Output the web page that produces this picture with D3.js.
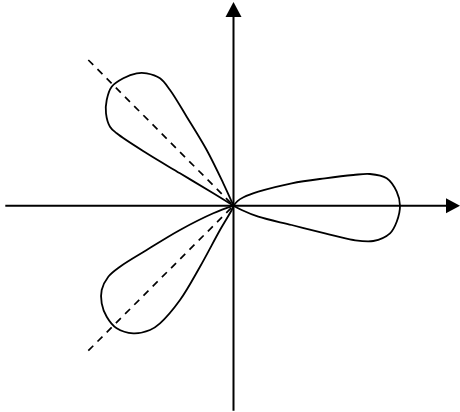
<html>
<head>
    <script src="https://d3js.org/d3.v7.min.js"></script>
    <style>
        body { margin: 0; background: #fff; }
    </style>
</head>
<body>
    <svg id="rose_svg" width="460" height="412"></svg>
    <script>
        // outline points of each petal (x right, y up), starting and ending at the pole
        const petalRight = [
            [0, 0], [4, 4.6], [10, 8.4], [24.8, 14], [58.2, 22.4], [91.5, 27.4], [119.8, 30.7], [136.5, 31.7],
            [153.2, 27.4], [163.2, 14], [166.5, 0], [163.2, -16], [156.5, -27.6], [139.8, -35.3],
            [119.8, -34.3], [91.5, -27.6], [58.2, -19.3], [24.8, -11], [8.2, -4.3], [0, 0]
        ];
        const petalUpperLeft = [
            [0, 0], [-10.2, 22.4], [-26.8, 55.7], [-46.8, 89], [-63.5, 115.7], [-73.5, 127.4],
            [-86.8, 132.4], [-96.8, 132.4], [-110.2, 127.4], [-121.8, 119], [-126.8, 105.7],
            [-127.5, 92.4], [-123.5, 79], [-116.8, 72.4], [-86.8, 52.4], [-53.5, 32.4], [-20.2, 12.4], [0, 0]
        ];
        const petalLowerLeft = [
            [0, 0], [-20.2, -7.6], [-53.5, -24.3], [-86.8, -44.3], [-113.5, -61], [-125.2, -71],
            [-131.8, -84.3], [-131.8, -97.6], [-126.8, -111], [-116.8, -122.6], [-100.2, -127.6],
            [-83.5, -124.3], [-73.5, -117.6], [-53.5, -94.3], [-33.5, -61], [-13.5, -24.3], [-1.8, -4.3], [0, 0]
        ];
        const petals = [petalRight, petalUpperLeft, petalLowerLeft];

        // dashed guide rays from the pole
        const guides = [[-145.2, 145.7], [-145.2, -145]];

        // axis extents
        const xAxisExtent = [-228.2, 226.5];
        const yAxisExtent = [-205, 203.7];

        const svg = d3.select("#rose_svg");
        const width = +svg.attr("width");
        const height = +svg.attr("height");

        const x = d3.scaleLinear().domain([-233.5, 226.5]).range([0, width]);
        const y = d3.scaleLinear().domain([205.7, -206.3]).range([0, height]);

        // axes
        svg.append("line")
            .attr("x1", x(xAxisExtent[0])).attr("x2", x(xAxisExtent[1]) - 12)
            .attr("y1", y(0)).attr("y2", y(0))
            .attr("stroke", "black").attr("stroke-width", 2);

        svg.append("line")
            .attr("x1", x(0)).attr("x2", x(0))
            .attr("y1", y(yAxisExtent[0])).attr("y2", y(yAxisExtent[1]) + 12)
            .attr("stroke", "black").attr("stroke-width", 2);

        // arrow heads
        const xEnd = x(xAxisExtent[1]);
        svg.append("path")
            .attr("d", "M" + xEnd + "," + y(0) + "L" + (xEnd - 14) + "," + (y(0) - 7.5) + "L" + (xEnd - 14) + "," + (y(0) + 7.5) + "Z")
            .attr("fill", "black");

        const yEnd = y(yAxisExtent[1]);
        svg.append("path")
            .attr("d", "M" + x(0) + "," + yEnd + "L" + (x(0) - 8) + "," + (yEnd + 15) + "L" + (x(0) + 8) + "," + (yEnd + 15) + "Z")
            .attr("fill", "black");

        // guides
        guides.forEach(g => {
            svg.append("line")
                .attr("x1", x(g[0])).attr("y1", y(g[1]))
                .attr("x2", x(0)).attr("y2", y(0))
                .attr("stroke", "black")
                .attr("stroke-width", 1.7)
                .attr("stroke-dasharray", "7,6");
        });

        // petals
        const line = d3.line()
            .x(d => x(d[0]))
            .y(d => y(d[1]))
            .curve(d3.curveCatmullRom.alpha(0.5));

        petals.forEach(p => {
            svg.append("path")
                .attr("d", line(p))
                .attr("fill", "none")
                .attr("stroke", "black")
                .attr("stroke-width", 1.8);
        });
    </script>
</body>
</html>
